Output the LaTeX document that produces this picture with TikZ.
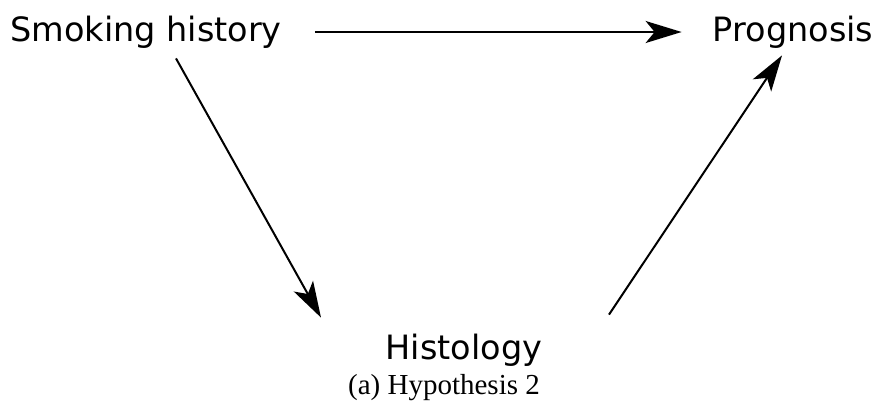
\documentclass[tikz,border=0pt]{standalone}
\usepackage{fontspec}
\setmainfont{Liberation Serif}
\newfontfamily\labelfont{DejaVu Sans}
\usepackage{tikz}
\usetikzlibrary{arrows.meta, calc}

\begin{document}
\begin{tikzpicture}[x=1pt, y=-1pt,
  lbl/.style={inner sep=0pt, font=\labelfont\fontsize{33.5}{40}\selectfont},
  captext/.style={inner sep=0pt, font=\fontsize{29}{34}\selectfont},
  edge/.style={line width=2pt, -{Stealth[length=36pt, width=22pt, inset=9pt]}}]
  \useasboundingbox (0,0) rectangle (882,418);

  % Variables
  \node[lbl] (smoke) at (146,32) {Smoking history};
  \node[lbl] (prog) at (793,32) {Prognosis};
  \node[lbl] (hist) at (464,350) {Histology};
  \node[captext] (caption) at (444,388) {(a) Hypothesis 2};

  % Edges
  \draw[edge, shorten <=33pt, shorten >=31pt] (smoke.east) -- (prog.west);
  \draw[edge] ($(smoke.south)+(30,10)$) -- ($(hist.north)+(-143,-16)$);
  \draw[edge] ($(hist.north)+(145,-19)$) -- ($(prog.south)+(-11,7)$);
\end{tikzpicture}
\end{document}
